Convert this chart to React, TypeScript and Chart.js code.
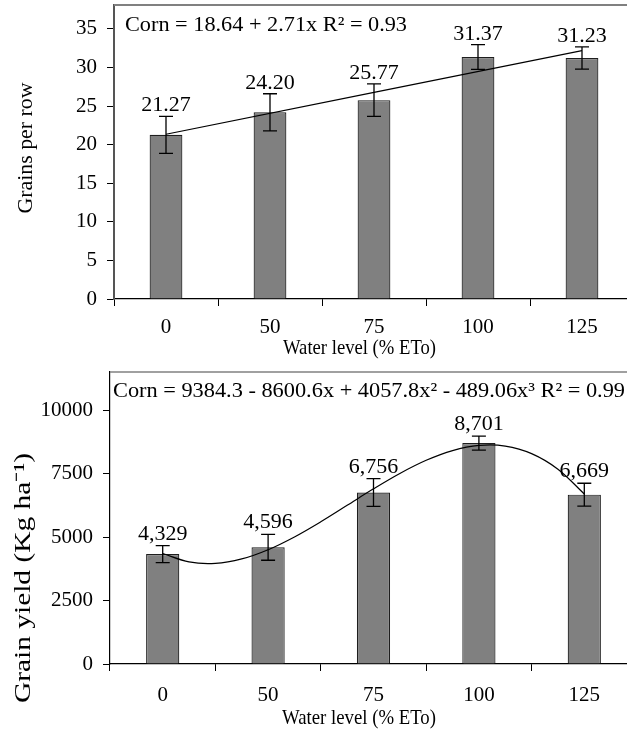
import React, { useEffect, useRef } from "react";
import { Chart, registerables } from "chart.js";

Chart.register(...registerables);

const SERIF = '"Liberation Serif", "Times New Roman", serif';

// ---- shared categories ----
const CATEGORIES = ["0", "50", "75", "100", "125"];

// ---- panel 1: grains per row ----
const GRAINS_VALUES = [21.27, 24.2, 25.77, 31.37, 31.23];
const GRAINS_ERRORS = [2.4, 2.4, 2.1, 1.6, 1.45];
const GRAINS_LABELS = ["21.27", "24.20", "25.77", "31.37", "31.23"];
const GRAINS_TREND_X = [1, 5];
const GRAINS_TREND_Y = [21.35, 32.19];
const GRAINS_TICKS = [0, 5, 10, 15, 20, 25, 30, 35];
const GRAINS_EQUATION = "Corn = 18.64 + 2.71x R\u00B2 = 0.93";
const GRAINS_Y_TITLE = "Grains per row";

// ---- panel 2: grain yield ----
const YIELD_VALUES = [4329, 4596, 6756, 8701, 6669];
const YIELD_ERRORS = [335, 510, 545, 275, 450];
const YIELD_LABELS = ["4,329", "4,596", "6,756", "8,701", "6,669"];
const YIELD_TREND_X = [1, 1.25, 1.5, 1.75, 2, 2.25, 2.5, 2.75, 3, 3.25, 3.5, 3.75, 4, 4.25, 4.5, 4.75, 5];
const YIELD_TREND_Y = [4352, 4019, 3963, 4139, 4502, 5005, 5602, 6249, 6898, 7504, 8022, 8405, 8607, 8583, 8286, 7672, 6694];
const YIELD_TICKS = [0, 2500, 5000, 7500, 10000];
const YIELD_EQUATION = "Corn = 9384.3 - 8600.6x + 4057.8x\u00B2 - 489.06x\u00B3 R\u00B2 = 0.99";
const YIELD_Y_TITLE = "Grain yield (Kg ha\u207B\u00B9)";

const X_TITLE = "Water level (% ETo)";

type Panel = {
  values: number[];
  errors: number[];
  labels: string[];
  trendX: number[];
  trendY: number[];
  ticks: number[];
  yMax: number;
  equation: string;
  yTitle: string;
  width: number;
  height: number;
  padTop: number;
  padRight: number;
  yAxisWidth: number;
  xAxisHeight: number;
  xTickPad: number;
  yTickPad: number;
  labelGap: number;
  frameColor: string;
  frameWidth: number;
  yLineColor: string;
  yLineWidth: number;
  eq: { x: number; y: number; size: number; width: number };
  yt: { x: number; y: number; size: number; len: number };
  xt: { x: number; y: number; size: number; width: number };
};

function fitText(
  ctx: CanvasRenderingContext2D,
  text: string,
  x: number,
  y: number,
  size: number,
  width: number,
  align: CanvasTextAlign,
  rotate: boolean
) {
  ctx.save();
  ctx.font = `${size}px ${SERIF}`;
  const w = ctx.measureText(text).width;
  const sx = width / w;
  ctx.translate(x, y);
  if (rotate) ctx.rotate(-Math.PI / 2);
  ctx.scale(sx, 1);
  ctx.textAlign = align;
  ctx.textBaseline = "middle";
  ctx.fillStyle = "#000";
  ctx.fillText(text, 0, 0);
  ctx.restore();
}

function buildChart(canvas: HTMLCanvasElement, p: Panel) {
  const overlay = {
    id: "overlay",
    afterDatasetsDraw(chart: any) {
      const ctx: CanvasRenderingContext2D = chart.ctx;
      const ys = chart.scales.y;
      const meta = chart.getDatasetMeta(0);
      const a = chart.chartArea;
      ctx.save();
      // top frame line
      ctx.strokeStyle = p.frameColor;
      ctx.lineWidth = p.frameWidth;
      ctx.beginPath();
      ctx.moveTo(a.left, a.top);
      ctx.lineTo(chart.width, a.top);
      ctx.stroke();
      // error bars + labels
      meta.data.forEach((bar: any, i: number) => {
        const x = bar.x;
        const top = ys.getPixelForValue(p.values[i] + p.errors[i]);
        const bot = ys.getPixelForValue(p.values[i] - p.errors[i]);
        ctx.strokeStyle = "#000";
        ctx.lineWidth = 1.3;
        ctx.beginPath();
        ctx.moveTo(x, top);
        ctx.lineTo(x, bot);
        ctx.moveTo(x - 7, top);
        ctx.lineTo(x + 7, top);
        ctx.moveTo(x - 7, bot);
        ctx.lineTo(x + 7, bot);
        ctx.stroke();
        ctx.fillStyle = "#000";
        ctx.font = `22px ${SERIF}`;
        ctx.textAlign = "center";
        ctx.textBaseline = "alphabetic";
        ctx.fillText(p.labels[i], x, top - p.labelGap);
      });
      ctx.restore();
      fitText(ctx, p.equation, p.eq.x, p.eq.y, p.eq.size, p.eq.width, "left", false);
      fitText(ctx, p.yTitle, p.yt.x, p.yt.y, p.yt.size, p.yt.len, "center", true);
      fitText(ctx, X_TITLE, p.xt.x, p.xt.y, p.xt.size, p.xt.width, "center", false);
    },
  };

  const trendPoints = p.trendX.map((x, i) => ({ x, y: p.trendY[i] }));

  return new Chart(canvas, {
    type: "bar",
    data: {
      labels: CATEGORIES,
      datasets: [
        {
          type: "bar",
          data: p.values,
          backgroundColor: "#808080",
          borderColor: "#1e1e1e",
          borderWidth: 1.2,
          barPercentage: 0.315,
          categoryPercentage: 1,
          grouped: false,
          order: 2,
        } as any,
        {
          type: "line",
          data: trendPoints,
          xAxisID: "xT",
          borderColor: "#000",
          borderWidth: 1.2,
          pointRadius: 0,
          tension: 0.35,
          fill: false,
          order: 1,
        } as any,
      ],
    },
    options: {
      animation: false,
      responsive: false,
      devicePixelRatio: 1,
      layout: { padding: { top: p.padTop, right: p.padRight, left: 0, bottom: 0 } },
      plugins: { legend: { display: false }, tooltip: { enabled: false }, title: { display: false } },
      scales: {
        x: {
          type: "category",
          offset: true,
          grid: {
            offset: true,
            drawOnChartArea: false,
            drawTicks: true,
            tickLength: 7,
            color: "#000",
            lineWidth: 1,
          },
          border: { display: true, color: "#000", width: 1.2 },
          ticks: {
            color: "#000",
            font: { family: SERIF, size: 21 },
            padding: p.xTickPad,
            maxRotation: 0,
            autoSkip: false,
          },
          afterFit: (s: any) => {
            s.height = p.xAxisHeight;
            s.paddingLeft = 0;
            s.paddingRight = 0;
          },
        },
        xT: {
          type: "linear",
          display: false,
          offset: false,
          grid: { offset: false },
          min: 0.5,
          max: 5.5,
        },
        y: {
          type: "linear",
          min: 0,
          max: p.yMax,
          grid: {
            drawOnChartArea: false,
            drawTicks: true,
            tickLength: 7,
            color: "#000",
          },
          border: { display: true, color: p.yLineColor, width: p.yLineWidth },
          ticks: {
            color: "#000",
            font: { family: SERIF, size: 21 },
            padding: p.yTickPad,
            callback: (v: any) => String(v),
          },
          afterBuildTicks: (s: any) => {
            s.ticks = p.ticks.map((v) => ({ value: v }));
          },
          afterFit: (s: any) => {
            s.width = p.yAxisWidth;
            s.paddingTop = 0;
            s.paddingBottom = 0;
          },
        },
      },
    } as any,
    plugins: [overlay],
  });
}

const PANEL_TOP: Panel = {
  values: GRAINS_VALUES,
  errors: GRAINS_ERRORS,
  labels: GRAINS_LABELS,
  trendX: GRAINS_TREND_X,
  trendY: GRAINS_TREND_Y,
  ticks: GRAINS_TICKS,
  yMax: 38.1,
  equation: GRAINS_EQUATION,
  yTitle: GRAINS_Y_TITLE,
  width: 640,
  height: 365,
  padTop: 5,
  padRight: 6,
  yAxisWidth: 114,
  xAxisHeight: 66,
  xTickPad: 9,
  yTickPad: 10,
  labelGap: 5,
  frameColor: "#808080",
  frameWidth: 2,
  yLineColor: "#555",
  yLineWidth: 2,
  eq: { x: 125, y: 25.5, size: 22, width: 282 },
  yt: { x: 26, y: 148, size: 22, len: 131 },
  xt: { x: 359.5, y: 348, size: 22, width: 153 },
};

const PANEL_BOTTOM: Panel = {
  values: YIELD_VALUES,
  errors: YIELD_ERRORS,
  labels: YIELD_LABELS,
  trendX: YIELD_TREND_X,
  trendY: YIELD_TREND_Y,
  ticks: YIELD_TICKS,
  yMax: 11500,
  equation: YIELD_EQUATION,
  yTitle: YIELD_Y_TITLE,
  width: 645,
  height: 368,
  padTop: 7,
  padRight: 8,
  yAxisWidth: 110,
  xAxisHeight: 69,
  xTickPad: 12,
  yTickPad: 10,
  labelGap: 6,
  frameColor: "#808080",
  frameWidth: 1.5,
  yLineColor: "#000",
  yLineWidth: 1.2,
  eq: { x: 113, y: 26, size: 22, width: 512 },
  yt: { x: 24, y: 213, size: 23, len: 250 },
  xt: { x: 359, y: 353, size: 22, width: 154 },
};

function ChartPanel({ panel, top }: { panel: Panel; top: number }) {
  const ref = useRef<HTMLCanvasElement | null>(null);
  useEffect(() => {
    if (!ref.current) return;
    const chart = buildChart(ref.current, panel);
    return () => chart.destroy();
  }, [panel]);
  return (
    <canvas
      ref={ref}
      width={panel.width}
      height={panel.height}
      style={{ position: "absolute", left: 0, top, width: panel.width, height: panel.height }}
    />
  );
}

export default function App() {
  return (
    <div
      style={{
        position: "fixed",
        left: 0,
        top: 0,
        width: 627,
        height: 733,
        overflow: "hidden",
        background: "#fff",
      }}
    >
      <ChartPanel panel={PANEL_TOP} top={0} />
      <ChartPanel panel={PANEL_BOTTOM} top={365} />
    </div>
  );
}
